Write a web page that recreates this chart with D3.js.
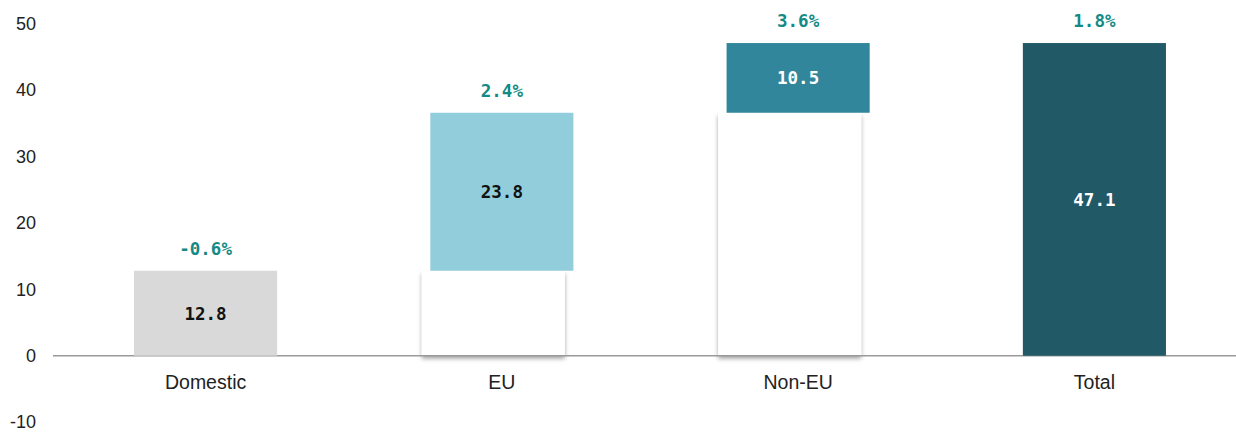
<!DOCTYPE html>
<html><head><meta charset="utf-8">
<script src="https://cdn.jsdelivr.net/npm/d3@7"></script>
<style>body{margin:0;background:#fff}svg{display:block}</style>
</head><body>
<svg id="c" width="1236" height="435"></svg>
<script>
const categories = ["Domestic", "EU", "Non-EU", "Total"];
const values = [12.8, 23.8, 10.5, 47.1];
const isTotal = [false, false, false, true];
const growthLabels = ["-0.6%", "2.4%", "3.6%", "1.8%"];
const yTicks = [-10, 0, 10, 20, 30, 40, 50];
const colors = ["#d9d9d9", "#92cddc", "#31869b", "#215967"];
const labelColors = ["#111111", "#111111", "#ffffff", "#ffffff"];

// waterfall bases
let run = 0;
const bases = values.map((v, i) => { if (isTotal[i]) return 0; const b = run; run += v; return b; });

const svg = d3.select("#c");
const W = 1236;
const x = d3.scaleBand().domain(categories).range([57.4, 1242.6]).paddingInner(0.517).paddingOuter(0.2587);
const y = d3.scaleLinear().domain([-10, 50]).range([422.1, 23.8]);

const defs = svg.append("defs");
const f = defs.append("filter").attr("id", "sh").attr("x", "-20%").attr("y", "-20%").attr("width", "140%").attr("height", "140%");
f.append("feDropShadow").attr("dx", 0).attr("dy", 3).attr("stdDeviation", 2.2).attr("flood-color", "#000").attr("flood-opacity", 0.35);

// y axis labels
const yAxis = d3.axisLeft(y).tickValues(yTicks).tickSize(0).tickPadding(0).tickFormat(d => String(d));
const gy = svg.append("g").attr("transform", "translate(36,0)").call(yAxis);
gy.select(".domain").remove();
gy.selectAll("text").attr("font-family", "Liberation Sans, Arial, sans-serif").attr("font-size", 18).attr("fill", "#222");

// invisible (base) bars drawn white with shadow
const shiftBase = -8.5;
svg.append("g").selectAll("rect").data(categories.filter((c, i) => bases[i] > 0)).join("rect")
  .attr("x", c => x(c) + shiftBase)
  .attr("width", x.bandwidth())
  .attr("y", c => y(bases[categories.indexOf(c)]))
  .attr("height", c => y(0) - y(bases[categories.indexOf(c)]))
  .attr("fill", "#fff").attr("filter", "url(#sh)");

// baseline
svg.append("line").attr("x1", 53).attr("x2", W).attr("y1", y(0)).attr("y2", y(0))
  .attr("stroke", "#9a9a9a").attr("stroke-width", 1.6);

// value bars
svg.append("g").selectAll("rect").data(categories).join("rect")
  .attr("x", c => x(c))
  .attr("width", x.bandwidth())
  .attr("y", (c, i) => y(bases[i] + values[i]))
  .attr("height", (c, i) => y(bases[i]) - y(bases[i] + values[i]))
  .attr("fill", (c, i) => colors[i]);

// value labels
svg.append("g").selectAll("text").data(categories).join("text")
  .attr("x", c => x(c) + x.bandwidth() / 2)
  .attr("y", (c, i) => y(bases[i] + values[i] / 2))
  .attr("dy", "0.36em")
  .attr("text-anchor", "middle")
  .attr("font-family", "DejaVu Sans Mono, monospace")
  .attr("font-weight", "bold").attr("font-size", 17.5)
  .attr("fill", (c, i) => labelColors[i])
  .text((c, i) => values[i].toFixed(1));

// growth labels
svg.append("g").selectAll("text").data(categories).join("text")
  .attr("x", c => x(c) + x.bandwidth() / 2)
  .attr("y", (c, i) => y(bases[i] + values[i]) - 22)
  .attr("dy", "0.36em")
  .attr("text-anchor", "middle")
  .attr("font-family", "DejaVu Sans Mono, monospace")
  .attr("font-weight", "bold").attr("font-size", 17.5)
  .attr("fill", "#138a85")
  .text((c, i) => growthLabels[i]);

// category labels
const xAxis = d3.axisBottom(x).tickSize(0).tickPadding(0);
const gx = svg.append("g").attr("transform", `translate(0,${y(0) + 26})`).call(xAxis);
gx.select(".domain").remove();
gx.selectAll("text").attr("dy", "0.36em").attr("font-family", "Liberation Sans, Arial, sans-serif").attr("font-size", 19.5).attr("fill", "#222");
</script>
</body></html>
